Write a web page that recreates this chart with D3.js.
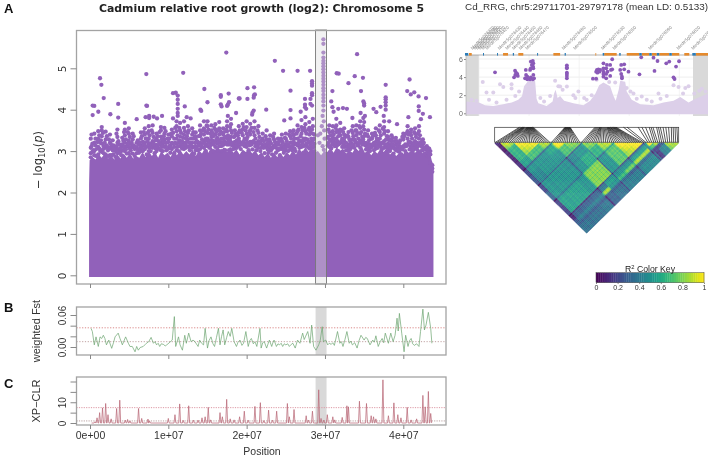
<!DOCTYPE html>
<html><head><meta charset="utf-8">
<script src="https://cdn.jsdelivr.net/npm/d3@7"></script>
<style>html,body{margin:0;padding:0;background:#fff}svg{display:block;filter:blur(0.3px)}</style>
</head><body><svg id="c" width="708" height="457"></svg>
<script>
// ---------- Panel A: Manhattan, positions in Mb, values -log10(p)
const massTop = [[-0.12,2.2],[-0.05,2.78],[0.3,2.86],[0.7,2.8],[1.1,2.92],[1.5,2.84],[1.9,2.96],[2.3,2.82],[2.7,2.9],[3.1,2.8],[3.5,2.92],[3.9,2.82],[4.3,2.94],[4.7,2.84],[5.1,2.96],[5.5,2.82],[5.9,2.88],[6.3,2.84],[6.7,2.98],[7.1,2.86],[7.5,3.0],[7.9,2.88],[8.3,2.98],[8.7,2.84],[9.1,3.0],[9.5,2.9],[9.9,2.96],[10.3,2.86],[10.7,3.02],[11.1,2.9],[11.5,3.04],[11.9,2.92],[12.3,3.0],[12.7,2.92],[13.1,3.04],[13.5,2.88],[13.9,3.02],[14.3,2.94],[14.7,3.08],[15.1,2.96],[15.5,3.1],[15.9,2.98],[16.3,3.12],[16.7,3.0],[17.1,3.1],[17.5,2.98],[17.9,3.12],[18.3,2.96],[18.7,3.04],[19.1,2.92],[19.5,3.04],[19.9,2.98],[20.3,3.06],[20.7,2.94],[21.1,3.02],[21.5,2.9],[21.9,2.98],[22.3,2.86],[22.7,2.96],[23.1,2.84],[23.5,2.96],[23.9,2.86],[24.3,2.94],[24.7,2.86],[25.1,2.98],[25.5,2.9],[25.9,3.02],[26.3,2.92],[26.7,3.06],[27.1,2.96],[27.5,3.1],[27.9,2.98],[28.3,3.08],[28.7,2.96],[29.1,3.0],[29.5,2.9],[29.9,3.0],[30.3,2.98],[30.7,3.08],[31.1,2.96],[31.5,3.1],[31.9,3.0],[32.3,3.06],[32.7,2.94],[33.1,3.02],[33.5,2.96],[33.9,3.08],[34.3,3.0],[34.7,3.12],[35.1,2.96],[35.5,3.02],[35.9,2.9],[36.3,3.0],[36.7,2.94],[37.1,3.06],[37.5,2.98],[37.9,3.08],[38.3,2.92],[38.7,2.98],[39.1,2.88],[39.5,2.96],[39.9,2.9],[40.3,3.02],[40.7,2.96],[41.1,3.04],[41.5,2.96],[41.9,3.04],[42.3,2.96],[42.7,2.94],[43.1,2.9],[43.5,2.88],[43.7,2.72],[43.85,2.45]];
const topSnps = [[17.4,5.38],[1.28,4.76],[1.45,4.6],[1.75,4.28],[7.19,4.86],[11.9,4.89],[14.6,4.5],[17.7,4.39],[16.7,4.35],[16.7,4.31],[10.6,4.4],[10.95,4.41],[11.2,4.34],[11.2,4.24],[11.2,4.14],[12.1,4.08],[15,4.18],[0.34,4.1],[0.55,4.09],[1.06,3.95],[0.34,3.87],[2.6,3.89],[3.6,4.14],[3.6,3.81],[5.96,3.77],[7.2,4.1],[7.28,4.09],[7.1,3.82],[7.55,3.85],[7.55,3.8],[8.13,3.83],[8.56,3.79],[9.2,3.85],[10.6,3.79],[11.2,4.02],[11.2,3.92],[11.2,3.85],[12.35,3.82],[12.85,3.79],[14.1,4.0],[14.2,3.97],[16.7,4.13],[16.8,4.08],[17.6,4.12],[17.75,4.18],[17.5,4.09],[19,4.27],[18.65,3.92],[17.6,3.85],
[23.6,5.18],[24.65,4.94],[26.5,4.94],[28.1,4.94],[28.35,4.69],[28.35,4.63],[28.35,4.58],[28.35,4.4],[28.35,4.35],[25.6,4.46],[20.1,4.52],[20.95,4.54],[20.95,4.35],[21.05,4.37],[20.9,4.29],[20.1,4.26],[19.1,4.27],[27.45,4.26],[28.15,4.26],[27.45,4.12],[28.15,4.14],[28.35,4.1],[22.5,4],[25.6,3.99],[24.8,3.74],[25.6,3.79],[26.9,3.95],[27.45,4.06],[27.6,4.02],[20.9,3.98],[20.75,3.93],[20.7,3.88],
[34.1,5.34],[31.5,4.88],[31.75,4.87],[33.8,4.81],[34.85,4.77],[33,4.64],[30.95,4.45],[34.6,4.45],[30.8,4.2],[30.95,4.06],[34.9,4.2],[35,4.15],[35,4.1],[37.75,4.6],[37.75,4.3],[37.75,4.25],[37.75,4.18],[37.75,4.1],[37.75,4],[36.2,4.02],[36.55,3.94],[37.1,4.07],[40.8,4.73],[40.5,4.45],[40.95,4.37],[41.4,4.42],[41.95,4.32],[42.9,4.28],[41.97,4.08],[41.97,3.97],[42.5,3.9],[43.4,3.82],[42.25,3.77],[40.65,3.82],[32.3,4.04],[32.8,4.02],[31.7,4.02],[31.1,3.95],[34.55,3.92],[35.1,3.85],[33.5,3.8],[34.9,3.8],[37.5,3.85],[38.2,3.72],[39.2,3.65]];
const centralSnps = [[29.8,5.7],[29.8,5.59],[29.8,5.38],[29.8,5.26],[29.8,5.18],[29.8,5.12],[29.8,5.05],[29.8,4.98],[29.8,4.9],[29.8,4.82],[29.8,4.75],[29.8,4.68],[29.8,4.6],[29.8,4.52],[29.8,4.45],[29.8,4.36],[29.8,4.28],[29.8,4.2],[29.8,4.1],[29.8,3.98],[29.7,3.85],[29.85,3.72],[29.6,3.6],[29.9,3.5],[29.4,3.42],[29.1,3.38],[29.95,3.3],[29.3,3.2],[29.7,3.12],[29.85,3.03]];
const bandColumns = [
[0.1,3.3,3.08,2.95,2.85],[0.55,3.42,3.2,3.0,2.9],[1.05,3.48,3.3,3.1,2.92],[1.5,3.58,3.5,3.36,3.18,2.98],[2.0,3.47,3.28,3.08,2.92],[2.55,3.4,3.2,3.06,2.9],[3.0,3.14,3.02,2.92],[3.5,3.52,3.34,3.2,3.05,2.95],[4.0,3.1,3.0,2.9],[4.45,3.68,3.52,3.38,3.2,3.0],[4.95,3.55,3.42,3.25,3.1,2.95],[5.45,3.42,3.28,3.1,2.94],[5.95,3.2,3.08,2.95],[6.5,3.45,3.3,3.14,3.0],[7.0,3.55,3.4,3.2,3.05],[7.5,3.6,3.48,3.3,3.15,3.0],[8.0,3.62,3.44,3.24,3.08],[8.5,3.42,3.3,3.15,3.0],[9.05,3.58,3.5,3.35,3.2,3.02],[9.5,3.56,3.42,3.28,3.1],[10.0,3.4,3.22,3.06],[10.45,3.52,3.36,3.2,3.05],[11.05,3.72,3.6,3.48,3.3,3.18,3.02],[11.5,3.68,3.5,3.35,3.12],[12.0,3.72,3.56,3.4,3.2,3.05],[12.5,3.6,3.44,3.28,3.12],[13.05,3.55,3.4,3.2,3.08],[13.5,3.45,3.3,3.12,3.02],[14.05,3.62,3.5,3.36,3.2,3.05],[14.55,3.72,3.55,3.4,3.24,3.08],[15.0,3.72,3.6,3.44,3.3,3.12],[15.5,3.62,3.5,3.34,3.18],[16.0,3.65,3.52,3.4,3.22,3.1],[16.5,3.7,3.55,3.4,3.26,3.12],[17.0,3.55,3.4,3.3,3.15],[17.5,3.72,3.6,3.48,3.3,3.16],[18.0,3.78,3.65,3.5,3.34,3.2],[18.5,3.5,3.36,3.22,3.06],[19.0,3.6,3.45,3.3,3.12],[19.5,3.66,3.52,3.38,3.2],[20.0,3.72,3.58,3.42,3.28,3.1],[20.45,3.66,3.5,3.4,3.22],[21.0,3.72,3.56,3.38,3.2],[21.5,3.6,3.44,3.24,3.08],[22.05,3.42,3.3,3.15],[22.55,3.5,3.28,3.1],[23.0,3.38,3.22,3.06],[23.5,3.42,3.28,3.14],[24.0,3.3,3.16,3.02],[24.5,3.4,3.25,3.1],[25.0,3.42,3.3,3.16,3.02],[25.55,3.48,3.36,3.2,3.05],[26.0,3.5,3.38,3.22,3.06],[26.5,3.62,3.48,3.3,3.14],[27.0,3.75,3.58,3.42,3.24,3.1],[27.5,3.82,3.65,3.48,3.3,3.14],[28.0,3.7,3.56,3.4,3.22,3.06],[28.45,3.78,3.6,3.42,3.26,3.08],[30.55,3.62,3.46,3.28,3.1],[31.0,3.6,3.48,3.32,3.16],[31.45,3.78,3.62,3.46,3.3,3.12],[31.95,3.68,3.52,3.38,3.2],[32.45,3.55,3.4,3.25,3.1],[33.0,3.46,3.34,3.16,3.02],[33.55,3.6,3.44,3.28,3.1],[34.0,3.62,3.5,3.38,3.2],[34.5,3.72,3.56,3.42,3.26,3.08],[35.0,3.7,3.52,3.36,3.2],[35.5,3.5,3.35,3.18,3.04],[36.0,3.42,3.3,3.12],[36.5,3.55,3.38,3.22,3.06],[37.0,3.62,3.46,3.3,3.14],[37.55,3.72,3.58,3.42,3.24,3.08],[38.05,3.48,3.34,3.18,3.04],[38.5,3.38,3.24,3.1],[39.05,3.32,3.16,3.02],[39.5,3.2,3.1,2.98],[40.0,3.42,3.28,3.12],[40.55,3.6,3.48,3.3,3.16],[41.0,3.52,3.38,3.2,3.06],[41.5,3.55,3.42,3.24,3.08],[42.0,3.6,3.48,3.3,3.14],[42.5,3.28,3.16,3.02],[43.0,3.12,3.02,2.9],[43.45,3.0,2.92,2.72],[43.7,2.66,2.58,2.5]];
const bandFill = [
[0.3,3.18,2.98],[0.8,3.05,2.88],[1.3,3.2,3.0],[1.75,3.12,2.95],[2.3,3.02,2.88],[2.8,3.12,2.9],[3.25,3.0,2.86],[3.75,3.16,2.96],[4.25,3.25,3.02,2.86],[4.7,3.12,2.94],[5.2,3.18,3.02],[5.7,3.05,2.88],[6.25,3.15,2.96],[6.75,3.22,3.0],[7.25,3.3,3.1,2.92],[7.75,3.18,3.0],[8.25,3.12,2.95],[8.75,3.24,3.06],[9.3,3.18,3.0],[9.75,3.2,3.02],[10.25,3.14,2.96],[10.75,3.3,3.1,2.95],[11.3,3.2,3.0],[11.75,3.24,3.06],[12.25,3.3,3.08],[12.75,3.2,3.02],[13.3,3.1,2.94],[13.75,3.22,3.02],[14.3,3.28,3.1],[14.8,3.3,3.14,3.0],[15.25,3.26,3.08],[15.75,3.36,3.16,3.0],[16.25,3.32,3.18,3.02],[16.75,3.3,3.12,3.0],[17.25,3.34,3.18,3.02],[17.75,3.32,3.16,3.02],[18.25,3.2,3.05],[18.75,3.26,3.08],[19.25,3.2,3.05],[19.75,3.3,3.12],[20.25,3.2,3.02],[20.75,3.22,3.04],[21.25,3.2,3.02],[21.75,3.18,3.0],[22.3,3.1,2.95],[22.8,3.14,2.96],[23.25,3.08,2.92],[23.75,3.14,2.96],[24.25,3.05,2.9],[24.75,3.12,2.96],[25.3,3.15,3.0],[25.8,3.2,3.02],[26.25,3.18,3.0],[26.75,3.26,3.08],[27.25,3.3,3.12,2.96],[27.75,3.28,3.1],[28.25,3.3,3.12],[28.65,3.4,3.18,3.0],[30.35,3.34,3.14],[30.8,3.26,3.06],[31.25,3.3,3.12],[31.7,3.36,3.16,3.0],[32.2,3.3,3.1],[32.7,3.2,3.02],[33.25,3.24,3.05],[33.75,3.28,3.08],[34.25,3.3,3.14],[34.75,3.34,3.16],[35.25,3.2,3.04],[35.75,3.16,3.0],[36.25,3.2,3.02],[36.75,3.26,3.08],[37.25,3.2,3.04],[37.8,3.28,3.1],[38.3,3.16,3.0],[38.75,3.1,2.94],[39.3,3.16,3.0],[39.75,3.06,2.92],[40.25,3.16,3.0],[40.8,3.22,3.04],[41.25,3.18,3.02],[41.75,3.2,3.04],[42.25,3.16,3.0],[42.75,3.08,2.94],[43.2,3.02,2.88]];
const bandDense = [
[0.2,3.12,3.4],[0.42,3.02],[0.7,3.14,3.3],[0.95,3.22],[1.18,3.06,3.38],[1.4,3.26],[1.65,3.04,3.44],[1.88,3.2],[2.15,3.14,3.36],[2.42,3.08,3.28],[2.68,3.16],[2.9,3.02,3.26],[3.15,3.08],[3.38,3.12,3.42],[3.62,3.24,3.04],[3.88,3.06],[4.12,3.16,3.32],[4.35,3.1,3.46],[4.58,3.28,3.04],[4.82,3.18,3.46],[5.08,3.06,3.34],[5.32,3.2,3.1],[5.58,3.14,3.36],[5.82,3.1],[6.1,3.04,3.26],[6.38,3.2,3.06],[6.62,3.08,3.36],[6.88,3.14,3.46],[7.12,3.12,3.3],[7.38,3.22,3.44],[7.62,3.08,3.38],[7.88,3.14,3.5],[8.12,3.18,3.34],[8.38,3.06,3.26],[8.62,3.12,3.36],[8.88,3.16,3.46],[9.18,3.1,3.28],[9.42,3.22,3.36],[9.65,3.12,3.48],[9.88,3.06,3.3],[10.12,3.12,3.3],[10.35,3.08,3.42],[10.6,3.18,3.44],[10.88,3.2,3.56],[11.18,3.1,3.38],[11.4,3.26,3.56],[11.62,3.18,3.44],[11.88,3.12,3.32],[12.12,3.16,3.48],[12.38,3.22,3.36],[12.62,3.1,3.5],[12.88,3.14,3.3],[13.18,3.3,3.46],[13.42,3.2,3.36],[13.62,3.08,3.24],[13.88,3.14,3.36],[14.18,3.14,3.42],[14.42,3.2,3.5],[14.68,3.18,3.48],[14.9,3.26,3.62],[15.12,3.2,3.52],[15.38,3.14,3.42],[15.62,3.26,3.44],[15.88,3.2,3.56],[16.12,3.28,3.46],[16.38,3.2,3.5],[16.62,3.22,3.48],[16.88,3.18,3.44],[17.12,3.24,3.46],[17.38,3.2,3.52],[17.62,3.22,3.38],[17.88,3.26,3.58],[18.12,3.14,3.44],[18.38,3.12,3.34],[18.62,3.14,3.42],[18.88,3.18,3.38],[19.12,3.22,3.5],[19.38,3.16,3.44],[19.62,3.24,3.58],[19.88,3.18,3.5],[20.12,3.2,3.34],[20.38,3.14,3.46],[20.62,3.16,3.56],[20.88,3.24,3.46],[21.12,3.12,3.3],[21.38,3.14,3.5],[21.62,3.18,3.34],[21.88,3.08,3.26],[22.18,3.08,3.24],[22.42,3.16,3.36],[22.68,3.04,3.2],[22.92,3.12,3.28],[23.12,3.02,3.18],[23.38,3.08,3.34],[23.62,3.1,3.22],[23.88,3.06,3.2],[24.12,3.06,3.22],[24.38,3.14,3.3],[24.62,3.04,3.2],[24.88,3.08,3.32],[25.12,3.1,3.24],[25.42,3.12,3.4],[25.68,3.08,3.3],[25.92,3.14,3.42],[26.12,3.06,3.3],[26.38,3.16,3.42],[26.62,3.2,3.52],[26.88,3.14,3.36],[27.12,3.2,3.5],[27.38,3.26,3.56],[27.62,3.18,3.42],[27.88,3.22,3.52],[28.12,3.16,3.46],[28.35,3.2,3.52],[28.58,3.1,3.3],[30.45,3.2,3.52],[30.68,3.12,3.38],[30.92,3.2,3.46],[31.12,3.24,3.4],[31.35,3.2,3.56],[31.58,3.24,3.5],[31.82,3.18,3.44],[32.08,3.24,3.5],[32.32,3.18,3.46],[32.58,3.12,3.34],[32.88,3.1,3.38],[33.12,3.12,3.28],[33.38,3.18,3.5],[33.62,3.16,3.36],[33.88,3.24,3.5],[34.12,3.14,3.44],[34.38,3.2,3.6],[34.62,3.22,3.46],[34.88,3.28,3.6],[35.12,3.14,3.42],[35.38,3.1,3.4],[35.62,3.12,3.26],[35.88,3.08,3.3],[36.12,3.16,3.36],[36.38,3.12,3.44],[36.62,3.14,3.3],[36.88,3.2,3.5],[37.12,3.12,3.38],[37.38,3.2,3.54],[37.65,3.16,3.48],[37.92,3.14,3.36],[38.18,3.1,3.26],[38.42,3.06,3.28],[38.62,3.16,3.32],[38.88,3.06,3.24],[39.18,3.08,3.24],[39.42,3.04,3.14],[39.62,3.1,3.26],[39.88,3.04,3.34],[40.12,3.1,3.36],[40.38,3.12,3.42],[40.68,3.22,3.4],[40.92,3.12,3.44],[41.12,3.1,3.3],[41.38,3.16,3.46],[41.62,3.14,3.34],[41.88,3.12,3.42],[42.12,3.2,3.38],[42.38,3.1,3.24],[42.62,3.04,3.2],[42.88,3.06],[43.12,2.98,3.08],[43.3,2.92,3.06]];
const mainTicksY = [0,1,2,3,4,5];
const posTicks = [0,10,20,30,40];
const posLabels = ["0e+00","1e+07","2e+07","3e+07","4e+07"];
const highlight = [28.8,30.2];

// ---------- Panel B: weighted Fst [Mb, Fst x 1000]
const fstTrack = [[0.13,35],[0.3,29],[0.55,4],[0.77,19],[1.06,1],[1.28,19],[1.5,16],[1.7,22],[1.9,16],[2.1,4],[2.4,13],[2.77,-2.5],[3.0,8],[3.2,19],[3.6,26],[3.83,16],[4.13,4],[4.55,19],[4.9,7],[5.1,1],[5.4,1],[5.75,-9],[5.96,1],[6.17,-6],[6.4,-1],[6.8,1],[7.0,4],[7.2,7],[7.5,10],[7.8,18],[8.1,7],[8.3,10],[8.5,4],[8.7,7],[8.9,1],[9.1,6],[9.36,5],[9.6,2],[9.8,4],[10.2,9],[10.5,13],[10.77,57],[10.94,1],[11.3,19],[11.5,4],[11.8,-6],[12.1,22],[12.3,7],[12.6,26],[12.9,10],[13.15,13],[13.4,10],[13.8,1],[14,13],[14.25,7],[14.5,4],[14.7,35],[15,-2],[15.2,12],[15.45,19],[15.7,6],[15.9,1],[16.15,18],[16.4,35],[16.6,4],[16.8,20],[17,32],[17.2,4],[17.45,18],[17.66,29],[17.9,20],[18.1,35],[18.4,10],[18.7,1],[18.9,9],[19.15,13],[19.4,3],[19.6,7],[19.9,29],[20.2,1],[20.4,12],[20.6,16],[20.85,6],[21.06,10],[21.3,1],[21.7,35],[21.85,-2],[22.05,8],[22.25,10],[22.55,-2],[22.9,13],[23.2,1],[23.35,8],[23.5,13],[23.8,1],[24,6],[24.2,4],[24.4,7],[24.6,1],[24.8,6],[25,4],[25.25,6],[25.45,1],[25.7,5],[25.9,7],[26.2,-2],[26.5,13],[26.8,7],[27.15,26],[27.35,14],[27.5,19],[27.8,29],[28.1,7],[28.3,41],[28.55,1],[28.85,-6],[29.2,4],[29.4,13],[29.65,38],[29.8,10],[30.1,13],[30.35,4],[30.55,7],[30.8,5],[31,8],[31.2,3],[31.6,29],[31.9,7],[32.1,10],[32.3,1],[32.55,14],[32.8,29],[33.1,7],[33.3,11],[33.5,4],[33.8,8],[34.1,-2],[34.35,12],[34.6,22],[35,13],[35.2,18],[35.4,16],[35.75,4],[36.1,13],[36.3,9],[36.5,21],[36.8,1],[37.05,10],[37.3,16],[37.5,8],[37.7,26],[38.1,7],[38.4,26],[38.7,10],[38.95,22],[39.2,54],[39.35,30],[39.5,63],[39.8,26],[40.1,-9],[40.3,22],[40.6,1],[40.8,12],[41,16],[41.2,6],[41.4,3],[41.7,6],[42,1],[42.2,29],[42.5,71],[42.7,32],[42.9,41],[43.2,65],[43.5,35],[43.65,7]];
const fstTicks = [0,0.02,0.04,0.06];
const fstThresh = [0.036,0.01];

// ---------- Panel C: XP-CLR peaks
const clrPos = [0.64,0.9,1.23,1.6,2,2.3,2.7,3.4,3.8,4.5,4.8,5.1,6.2,6.6,7.4,7.6,10,10.85,11.45,11.9,12.6,13.2,13.8,14.3,14.7,15.1,15.4,16.6,16.9,17.45,17.9,18.4,19.1,19.7,20.2,21.06,21.75,22.2,22.8,23.3,23.83,25.2,25.45,26.05,27.6,27.9,28.4,29.2,29.5,29.85,30.3,31,31.25,32.2,32.8,33,34.4,35.3,35.9,36.2,36.5,37.4,38.1,38.8,39.3,39.7,40.5,41,41.7,42.5,42.8,43.2,43.5];
const clrVal = [0.6,2.5,5,7.3,9.4,4,2,7,11,1.4,1.7,1,7,2.2,1.9,1,2.2,4,9.2,1.3,8.3,1.4,1.4,2.5,3,7.5,1.5,5,3,11.4,2,1.5,3,5.7,1.4,8,9.8,1.2,6.2,1.4,5.7,9.4,3,6.5,3.5,1.4,5.7,16,2.2,1.4,4,3,1.5,2.7,8.3,7.8,10.5,9.4,3.5,3,2,20.8,3.5,9.7,4,2.5,7.5,1.5,2,13.3,7.8,15.2,4.6];
const clrTicks = [0,5,10,15,20];
const clrThresh = [7.4,1];

// ---------- Right top: locus plot, positions kb from region start
const regionKb = 85.477;
const locusLight = [[-5.2,1.3],[0,1.2],[2.4,.9],[5.7,.8],[9.7,1],[13.1,1.2],[15.7,1.5],[17.2,1.9],[18,3],[19.7,3.6],[22.4,3.6],[23,1.6],[23.7,1.1],[27,.8],[29.4,1.3],[30,2.2],[30.6,2.6],[31.4,1.7],[32.4,1.9],[34,1.4],[37.7,1.1],[41.7,.9],[44.4,1.4],[46.5,2.2],[48,3.1],[49.7,3.4],[52.4,3],[53.6,2],[54.6,1.4],[55.8,2.6],[56.4,3.6],[58.4,3.5],[59,2.4],[61,1.5],[64.4,1],[69.7,.9],[73.7,1.2],[77.7,1.4],[80.4,1.8],[83.7,1.2],[85.7,1.5],[91.6,2.2]];
const locusLightPts = [[1.5,3.47],[3,2.3],[5.7,2.3],[8.4,3.2],[9.7,2.9],[13,3.2],[13,2.75],[16,2.4],[30.4,3.6],[31.7,3],[32.4,2.95],[35.1,2.95],[37.7,2.0],[39.7,2.4],[47,3.7],[52,3.45],[54.4,3.4],[59,2.8],[61.7,2.2],[65,1.85],[71.7,2.2],[77.7,3.1],[79.7,2.9],[82.4,2.8],[83.7,3],[24.5,1.7],[26,1.3],[28.4,1.9],[33.4,2.6],[42,1.7],[43,1.5],[60.5,2.4],[67,1.5],[75,1.9],[86,2.2],[89,2.7],[4,1.5],[7,1.2],[11,1.5],[14.5,1.9],[38.5,1.7],[45,2],[63,1.6],[69,1.3],[72.5,1.6],[81.5,2.2],[-3,1.5],[-1,1.4],[88,2.5],[90.5,2.4]];
const locusDark = [[6.4,4.53],[14.4,4.71],[14.8,4.49],[15.3,4.35],[15.5,4.13],[14.5,4.24],[14,3.98],[18.7,4.79],[18.8,4.24],[19.3,4.05],[18.4,3.87],[20.4,4.79],[20.7,3.98],[21.7,4.24],[20.4,3.76],[19.3,3.76],[21.5,3.76],[22,3.87],[20.7,5.71],[21.5,5.78],[21.7,5.52],[21.1,5.34],[21.6,5.16],[21.7,4.97],[20.7,4.97],[35.1,5.3],[35.1,5.08],[35.1,4.97],[35.1,4.49],[35.1,4.35],[35.1,4.13],[35.1,3.87],[45.5,3.83],[46.8,3.83],[47.1,4.79],[47.7,4.86],[46.8,4.6],[48.4,4.79],[48.1,4.6],[47.3,4.49],[49.7,5.52],[51.1,5.34],[52.4,5.34],[49.7,4.97],[50.8,4.97],[52.7,4.79],[49.7,4.6],[51.3,4.6],[49.7,4.35],[50.8,4.35],[49.7,4.05],[50.8,3.87],[52.4,4.13],[53.2,4.86],[53.2,5.97],[56.8,5.34],[58,5.41],[56.4,4.79],[58,4.86],[59.7,4.6],[56.8,4.35],[57.1,4.05],[57.1,3.87],[64.8,6.19],[69.7,6.15],[71.3,5.78],[64.1,4.31],[70.1,4.68],[74.8,5.52],[76,5.71],[78.7,5.16],[79.9,5.75],[77.7,3.98],[78.1,3.79]];
const locusTicks = [0,2,4,6];
const geneBlue = [[-5.6,-4.3],[1.6,2],[7.2,7.6],[13.5,14],[23.2,23.6],[34.2,34.7],[49.4,50],[56,56.6],[64,65],[68,69],[71,72],[76,77],[85.2,86.6]];
const geneOrange = [[-4,-2.9],[9.6,11.6],[15.7,17.7],[29.7,32.4],[46.5,46.8],[50,55],[59,64],[65,68],[69,71],[72,76],[77,80],[82,84],[86.6,91.6]];
const geneLabelKb = [-3.4,-2.4,-1.4,-0.4,0.8,2.4,7.4,10.4,13.1,15.8,18.4,33,37.5,48.6,53.2,67.5,78.8,84.7];
const geneLabels = ["Medtr5g076370","Medtr5g076380","Medtr5g076390","Medtr5g076400","Medtr5g076410","Medtr5g076420","Medtr5g076430","Medtr5g076440","Medtr5g076450","Medtr5g076460","Medtr5g076470","Medtr5g076490","Medtr5g076500","Medtr5g076530","Medtr5g076550","Medtr5g076590","Medtr5g076620","Medtr5g076640"];

// ---------- Right middle: LD heatmap
const ldGroupSizes = [3,7,12,6,7,8,8,8,15,2,3,3,3,7];
const ldRows = [
[.1,.05,.08,.12,.2,.25,.2,.3,.18,.1,.1,.25,.3,.35],
[.72,.62,.55,.5,.45,.5,.5,.55,.3,.3,.4,.3,.35],
[.82,.68,.5,.5,.5,.5,.55,.28,.3,.4,.3,.35],
[.72,.58,.5,.48,.5,.5,.3,.32,.4,.3,.38],
[.85,.7,.45,.5,.8,.35,.4,.85,.3,.3],
[.65,.5,.6,.8,.5,.55,.5,.3,.35],
[.65,.62,.5,.45,.5,.65,.35,.4],
[.72,.72,.4,.5,.75,.3,.4],
[.85,.4,.55,.85,.35,.45],
[.5,.6,.55,.25,.35],
[.9,.7,.2,.15],
[.7,.2,.4],
[.3,.45],
[.7]];
const ldSnpTone = [0,.02,-.02,.03,-.03,.02,.04,-.02,0,-.04,.03,.02,-.03,.04,0,-.02,.03,-.04,.02,.01,-.03,.04,-.01,.02,-.04,.03,0,-.02,-.22,-.03,.02,-.02,.03,0,-.04,.03,-.02,.04,-.03,.02,.01,-.04,.03,-.2,.04,0,-.03,.02,.03,-.04,.02,-.01,.04,-.03,0,.03,-.02,.04,-.04,-.2,0,-.03,.03,.01,-.02,.04,-.04,.02,-.01,.03,-.03,.02,0,.04,-.18,.03,-.04,.02,0,-.03,.04,-.02,.03,-.04,.01,.02,-.03,.04,0,-.02,.03,-.01];
const ldNearBoost = [.16,.16,.14,.12,.1,.08,.06,.04,.02];
const ldTopFrac = [.134,.141,.149,.152,.155,.158,.16,.163,.166,.17,.174,.176,.178,.18,.182,.184,.186,.188,.19,.192,.194,.196,.198,.2,.202,.204,.206,.21,.382,.384,.386,.388,.39,.392,.394,.396,.398,.4,.402,.404,.406,.408,.41,.545,.55,.555,.56,.565,.57,.572,.575,.578,.58,.585,.59,.595,.6,.605,.61,.612,.615,.618,.62,.622,.625,.628,.63,.634,.638,.642,.646,.65,.655,.66,.7,.72,.78,.8,.82,.84,.85,.86,.88,.89,.9,.915,.93,.945,.96,.97,.98,.99];
const keyTicks = [0,.2,.4,.6,.8,1];

// ---------- colours
const purple="#9161BA", green="#6aa36f", maroon="#ba6a78", frameC="#a3a3a3", grayTx="#333";
const sans="'Liberation Sans',Arial,sans-serif", deja="'DejaVu Sans',sans-serif";

const svg=d3.select("#c");
const x=d3.scaleLinear([0,40],[90,403.3]);
const yA=d3.scaleLinear([0,5],[275.3,68.3]);
const yB=d3.scaleLinear([0,0.06],[347,315]);
const yC=d3.scaleLinear([0,20],[423,381.5]);

function hiRect(t,b){svg.append("rect").attr("x",x(highlight[0])).attr("width",x(highlight[1])-x(highlight[0])).attr("y",t).attr("height",b-t).attr("fill","#d9d9d9");}
function box(l,t,r,b,c){svg.append("rect").attr("x",l).attr("y",t).attr("width",r-l).attr("height",b-t).attr("fill","none").attr("stroke",c||frameC).attr("stroke-width",1.3);}
function yAxis(scale,ticks,fmt,xp,font,size){
  const g=svg.append("g").attr("transform",`translate(${xp},0)`).call(d3.axisLeft(scale).tickValues(ticks).tickFormat(fmt).tickSize(6).tickSizeOuter(0));
  g.select(".domain").remove();
  g.selectAll("line").attr("stroke","#888");
  g.selectAll("text").attr("x",-11).attr("y",0).attr("dy",0).attr("font-family",font).attr("font-size",size).attr("fill",grayTx)
    .attr("text-anchor","middle").attr("transform","rotate(-90,-11,0)");
  return g;
}
function xTicks(yp,labels){
  const g=svg.append("g").attr("transform",`translate(0,${yp})`).call(d3.axisBottom(x).tickValues(posTicks).tickSize(4).tickSizeOuter(0).tickFormat((d,i)=>labels?posLabels[i]:""));
  g.select(".domain").remove();
  g.selectAll("line").attr("stroke","#888");
  return g;
}

// ---- Panel A
const areaA=d3.area().x(d=>x(d[0])).y0(yA(-0.04)).y1(d=>yA(d[1]));
svg.append("path").datum(massTop).attr("d",areaA).attr("fill",purple);
const bandPts=[...bandColumns,...bandFill,...bandDense].flatMap(c=>c.slice(1).map(v=>[c[0],v]));
const allA=[...bandPts,...topSnps,...centralSnps];
svg.append("g").selectAll("circle").data(allA).join("circle").attr("cx",d=>x(d[0])).attr("cy",d=>yA(d[1])).attr("r",2.15).attr("fill",purple);
svg.append("rect").attr("x",x(highlight[0])).attr("width",x(highlight[1])-x(highlight[0])).attr("y",30).attr("height",254)
  .attr("fill","#dcdcdc").attr("fill-opacity",.38).attr("stroke","#777").attr("stroke-width",.9);
box(76.5,30.5,446,284);
yAxis(yA,mainTicksY,d3.format("d"),76.5,deja,10.5);
xTicks(284,false);
svg.append("text").attr("x",261.5).attr("y",12).attr("text-anchor","middle").attr("font-family",deja).attr("font-weight","bold").attr("font-size",10.9).attr("fill","#222").text("Cadmium relative root growth (log2): Chromosome 5");
const yl=svg.append("text").attr("transform","translate(42,160) rotate(-90)").attr("text-anchor","middle").attr("font-family",deja).attr("font-size",11.6).attr("fill",grayTx);
yl.append("tspan").text("− log");yl.append("tspan").attr("font-size",8.4).attr("dy",2.5).text("10");yl.append("tspan").attr("dy",-2.5).text("(");yl.append("tspan").attr("font-style","italic").text("p");yl.append("tspan").text(")");

// ---- Panel B
hiRect(307,355);
fstThresh.forEach((t,i)=>svg.append("line").attr("x1",76.5).attr("x2",446).attr("y1",yB(t)).attr("y2",yB(t)).attr("stroke",i?"#b08a8a":"#cf6a6a").attr("stroke-width",.8).attr("stroke-dasharray","1.2 1.6"));
svg.append("path").datum(fstTrack).attr("d",d3.line().x(d=>x(d[0])).y(d=>yB(d[1]/1000))).attr("fill","none").attr("stroke",green).attr("stroke-width",.7);
box(76.5,307,446,355);
yAxis(yB,fstTicks,d=>(d===0||d===0.06)?d3.format(".2f")(d):"",76.5,sans,10);
xTicks(355,false);
svg.append("text").attr("transform","translate(40,331) rotate(-90)").attr("text-anchor","middle").attr("font-family",sans).attr("font-size",11).attr("fill",grayTx).text("weighted Fst");

// ---- Panel C
hiRect(377,425);
clrThresh.forEach((t,i)=>svg.append("line").attr("x1",76.5).attr("x2",446).attr("y1",yC(t)).attr("y2",yC(t)).attr("stroke",i?"#b9a0a0":"#dc98a4").attr("stroke-width",1).attr("stroke-dasharray","1.2 1.2"));
const clrLine=[[0.2,0],...clrPos.flatMap((p,i)=>[[p-0.12,0],[p,clrVal[i]],[p+0.12,0]])];
svg.append("path").datum(clrLine).attr("d",d3.line().x(d=>x(d[0])).y(d=>yC(d[1]))).attr("fill","none").attr("stroke",maroon).attr("stroke-width",.75);
box(76.5,377,446,425);
yAxis(yC,clrTicks,d=>(d===0||d===10)?d:"",76.5,sans,10);
const xc=xTicks(425,true);
xc.selectAll("text").attr("font-family",sans).attr("font-size",10.5).attr("fill",grayTx).attr("y",7);
svg.append("text").attr("transform","translate(40,401) rotate(-90)").attr("text-anchor","middle").attr("font-family",sans).attr("font-size",11).attr("fill",grayTx).text("XP−CLR");
svg.append("text").attr("x",262).attr("y",455).attr("text-anchor","middle").attr("font-family",sans).attr("font-size",10.5).attr("fill",grayTx).text("Position");

// ---- Panel letters
[["A",12.5],["B",312],["C",388]].forEach(([t,yy])=>svg.append("text").attr("x",4).attr("y",yy).attr("font-family",sans).attr("font-weight","bold").attr("font-size",13).attr("fill","#111").text(t));

// ---- Locus
const lx=d3.scaleLinear([0,regionKb],[479,693]);
const ly=d3.scaleLinear([0,6],[113.3,59]);
const lxEnd=708, lTop=55, lBot=116;
svg.append("text").attr("x",465).attr("y",10).attr("font-family",sans).attr("font-size",9.9).attr("fill",grayTx).text("Cd_RRG, chr5:29711701-29797178 (mean LD: 0.5133)");
svg.append("rect").attr("x",466).attr("y",lTop).attr("width",lx(0)-466).attr("height",lBot-lTop).attr("fill","#d9d9d9");
svg.append("rect").attr("x",lx(regionKb)).attr("y",lTop).attr("width",lxEnd-lx(regionKb)).attr("height",lBot-lTop).attr("fill","#d9d9d9");
[0,1,2,3,4,5,6].forEach(v=>svg.append("line").attr("x1",lx(0)).attr("x2",lx(regionKb)).attr("y1",ly(v)).attr("y2",ly(v)).attr("stroke",v%2?"#f4f4f4":"#e8e8e8").attr("stroke-width",.7));
d3.range(5).forEach(k=>svg.append("line").attr("x1",lx(k*20)).attr("x2",lx(k*20)).attr("y1",lTop).attr("y2",lBot).attr("stroke","#eeeeee").attr("stroke-width",.7));
svg.append("path").datum(locusLight).attr("d",d3.area().x(d=>lx(d[0])).y0(ly(-0.1)).y1(d=>ly(d[1]))).attr("fill","#dccfe9");
svg.append("g").selectAll("circle").data(locusLightPts).join("circle").attr("cx",d=>lx(d[0])).attr("cy",d=>ly(d[1])).attr("r",2).attr("fill","#dccfe9");
svg.append("g").selectAll("circle").data(locusDark).join("circle").attr("cx",d=>lx(d[0])).attr("cy",d=>ly(d[1])).attr("r",1.9).attr("fill","#8a59b8");
const gl=svg.append("g").attr("transform","translate(466,0)").call(d3.axisLeft(ly).tickValues(locusTicks).tickSize(2).tickSizeOuter(0).tickFormat(d3.format("d")));
gl.select(".domain").remove();gl.selectAll("line").attr("stroke","#888");gl.selectAll("text").attr("font-family",sans).attr("font-size",7).attr("fill","#666").attr("x",-3);
svg.append("line").attr("x1",466).attr("x2",708).attr("y1",55).attr("y2",55).attr("stroke","#8f8f8f").attr("stroke-width",.7);
svg.append("line").attr("x1",466).attr("x2",466).attr("y1",55).attr("y2",116).attr("stroke","#aaa").attr("stroke-width",.6);
const genes=(arr,c)=>svg.append("g").selectAll("rect").data(arr).join("rect").attr("x",d=>lx(d[0])).attr("width",d=>Math.max(.8,lx(d[1])-lx(d[0]))).attr("y",53).attr("height",2.6).attr("fill",c);
genes(geneOrange,"#e58a2d");genes(geneBlue,"#2b7cb8");
svg.append("g").selectAll("text").data(geneLabelKb).join("text").attr("transform",d=>`translate(${lx(d)+2},50) rotate(-45)`).attr("font-family",sans).attr("font-size",4.5).attr("fill","#8a8a8a").text((d,i)=>geneLabels[i]);

// ---- LD heatmap
const ldN=d3.sum(ldGroupSizes);
const triL=494.7,triR=678.7,triTop=142.2,triBot=233.3,boxTop=127.3;
const stepX=(triR-triL)/ldN, halfH=(triBot-triTop)/(ldN+1);
const groupOf=ldGroupSizes.flatMap((s,g)=>Array(s).fill(g));
const ldColor=d3.scaleSequential(d3.interpolateViridis).domain([0,1]);
const cells=[];
for(let i=0;i<ldN;i++)for(let j=i;j<ldN;j++){
  const a=groupOf[i],b=groupOf[j];
  const near=(a===b&&ldRows[a][0]>.6)?(ldNearBoost[j-i]||0):0;
  const v=Math.max(0,Math.min(1,ldRows[a][b-a]+ldSnpTone[i]+ldSnpTone[j]+near));
  cells.push({i,j,v});
}
svg.append("g").selectAll("path").data(cells).join("path").attr("d",c=>{
  const cx=triL+(c.i+c.j+1)/2*stepX, T=triTop+(c.j-c.i)*halfH, hw=stepX/2;
  return `M${cx},${T}L${cx+hw},${T+halfH}L${cx},${T+2*halfH}L${cx-hw},${T+halfH}Z`;
}).attr("fill",c=>ldColor(c.v)).attr("stroke",c=>ldColor(c.v)).attr("stroke-width",.3);
svg.append("rect").attr("x",triL).attr("y",boxTop).attr("width",triR-triL).attr("height",triTop-boxTop).attr("fill","none").attr("stroke","#333").attr("stroke-width",.7);
svg.append("g").selectAll("line").data(ldTopFrac).join("line")
  .attr("x1",(d,i)=>triL+(i+.5)*stepX).attr("y1",triTop).attr("x2",d=>triL+d*(triR-triL)).attr("y2",boxTop).attr("stroke","#111").attr("stroke-width",.7);

// ---- Key
const keyX=d3.scaleLinear([0,1],[596,704]);
const keyBands=d3.range(0,1,0.02);
svg.append("g").selectAll("rect").data(keyBands).join("rect").attr("x",d=>keyX(d)).attr("width",keyX(0.02)-keyX(0)+.3).attr("y",272.7).attr("height",10).attr("fill",d=>ldColor(d+.01));
svg.append("rect").attr("x",596).attr("y",272.7).attr("width",108).attr("height",10).attr("fill","none").attr("stroke","#444").attr("stroke-width",.5);
const keyAx=svg.append("g").attr("transform","translate(0,282.7)").call(d3.axisBottom(keyX).tickValues(keyTicks).tickSize(1).tickSizeOuter(0).tickFormat(d=>d===0||d===1?d3.format("d")(d):d3.format(".1f")(d)));
keyAx.select(".domain").remove();keyAx.selectAll("line").attr("stroke","#555");keyAx.selectAll("text").attr("font-family",sans).attr("font-size",7).attr("fill","#333").attr("y",2);
const kt=svg.append("text").attr("x",650).attr("y",271.5).attr("text-anchor","middle").attr("font-family",sans).attr("font-size",8.7).attr("fill","#222");
kt.append("tspan").text("R");kt.append("tspan").attr("font-size",5.8).attr("dy",-3).text("2");kt.append("tspan").attr("dy",3).text(" Color Key");
</script></body></html>
